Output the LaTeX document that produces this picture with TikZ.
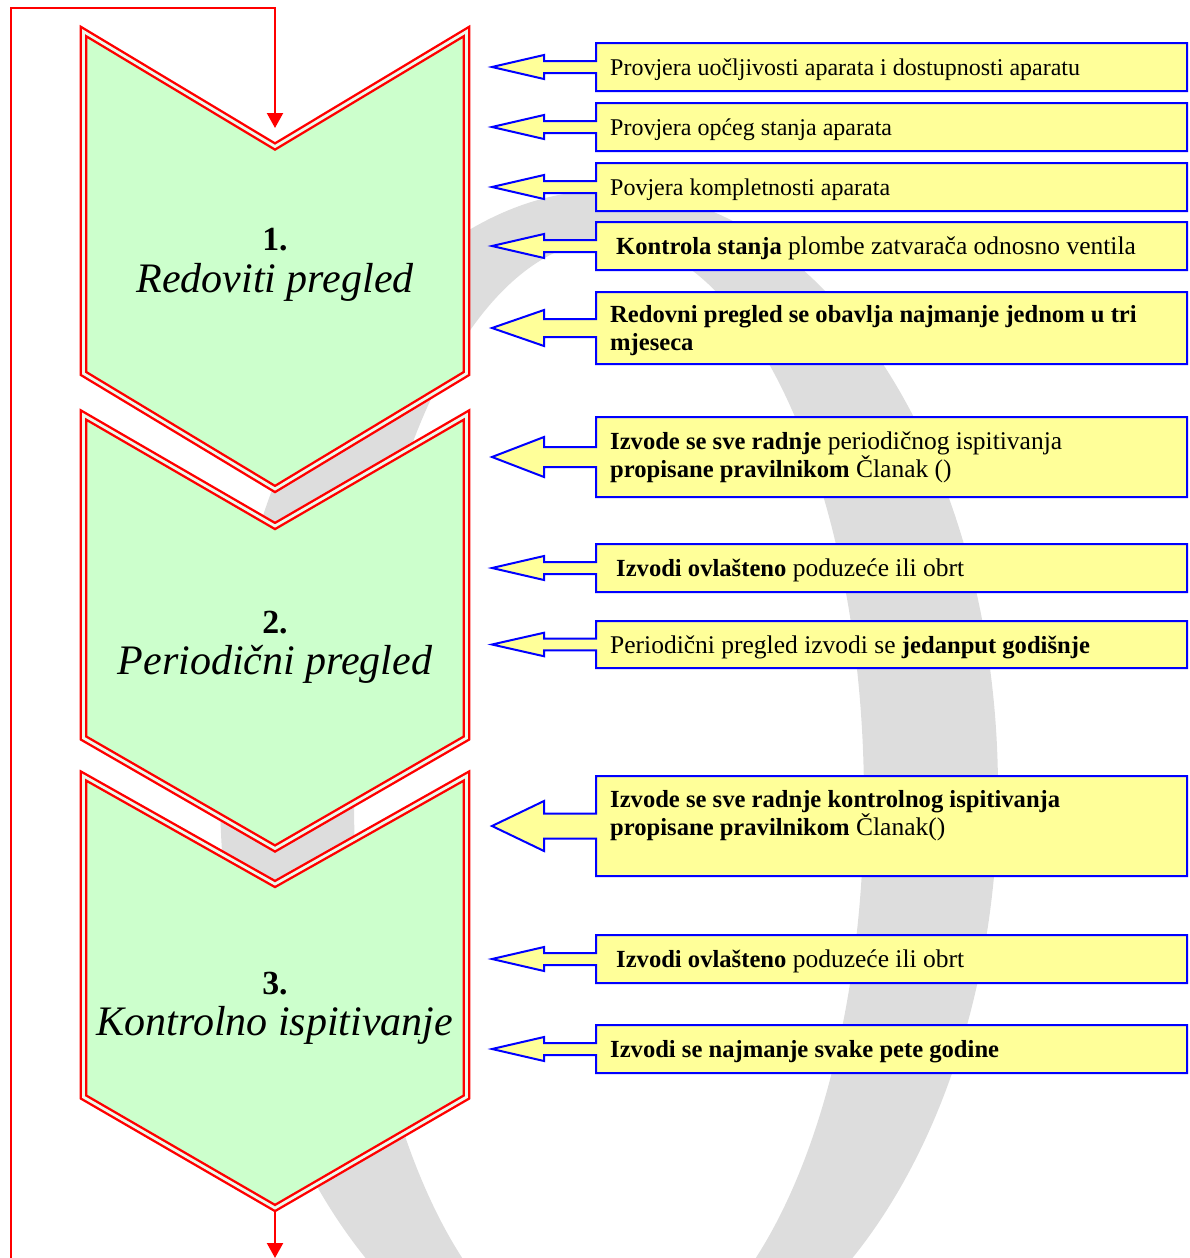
\documentclass[tikz,border=0pt]{standalone}
\usepackage{fontspec}
\setmainfont{Liberation Serif}[BoldFeatures={Scale=0.965}]
\usetikzlibrary{arrows.meta}
\definecolor{chevgreen}{RGB}{204,255,204}
\definecolor{boxyellow}{RGB}{255,255,153}
\definecolor{ringgray}{RGB}{221,221,221}
\definecolor{gapcol}{RGB}{236,250,236}
\tikzset{
  chev/.style={fill=chevgreen, draw=red, line width=2.4pt, double=gapcol, double distance=2.8pt, line join=miter},
  calbox/.style={fill=boxyellow, draw=blue, line width=2pt, line join=miter},
  conn/.style={draw=red, line width=2.2pt, line join=miter, -{Triangle[width=16pt,length=15pt]}},
  btxt/.style={anchor=base west, align=left, inner sep=0pt, font=\fontsize{25.5}{28}\selectfont},
  stxt/.style={btxt, font=\fontsize{24}{28}\selectfont},
  numtxt/.style={anchor=base, inner sep=0pt, font=\fontsize{35}{35}\selectfont\bfseries},
  ttltxt/.style={anchor=base, inner sep=0pt, font=\fontsize{42}{42}\selectfont\itshape},
}
\newcommand\calshape[2]{%
  \pgfmathsetmacro\cbc{(#1+#2)/2}%
  \pgfmathsetmacro\cbs{(#2-#1)/8}%
  \pgfmathsetmacro\cbh{(#2-#1)/4}%
  \path[calbox] (596,#1) -- (1187,#1) -- (1187,#2) -- (596,#2) -- (596,\cbc+\cbs) -- (544,\cbc+\cbs)
     -- (544,\cbc+\cbh) -- (492,\cbc) -- (544,\cbc-\cbh) -- (544,\cbc-\cbs) -- (596,\cbc-\cbs) -- cycle;
}
\begin{document}
\begin{tikzpicture}[x=1pt,y=-1pt]
\useasboundingbox (0,0) rectangle (1190,1258);
\clip (0,0) rectangle (1190,1258);
% background ring
\fill[ringgray, even odd rule] (609,790) ellipse [x radius=389pt, y radius=600pt]
   (609,800) ellipse [x radius=255pt, y radius=560pt];
% chevrons
\path[chev] (83.5,31.5) -- (275,146.5) -- (466.5,31.5) -- (466.5,373.5) -- (275,489) -- (83.5,373.5) -- cycle;
\path[chev] (83.5,415) -- (275,526) -- (466.5,415) -- (466.5,738) -- (275,848.5) -- (83.5,738) -- cycle;
\path[chev] (83.5,776) -- (275,884) -- (466.5,776) -- (466.5,1097) -- (275,1208) -- (83.5,1097) -- cycle;
\node[numtxt] (n1) at (275,250) {1.};
\node[ttltxt] (l1) at (275,292) {Redoviti pregled};
\node[numtxt] (n2) at (275,633) {2.};
\node[ttltxt] (l2) at (275,674) {Periodični pregled};
\node[numtxt] (n3) at (275,994) {3.};
\node[ttltxt] (l3) at (275,1035) {Kontrolno ispitivanje};
% connectors
\coordinate (c1notch) at (275,143);
\coordinate (c3tip) at (275,1211);
\coordinate (loopstart) at (11,1258);
\coordinate (loopturn) at (275,8);
\coordinate (exitend) at (275,1258);
\draw[conn, shorten >=15pt] (loopstart) |- (loopturn) -- (c1notch);
\draw[conn] (c3tip) -- (exitend);
% callouts
\calshape{43}{91}
\calshape{103}{151}
\calshape{163}{211}
\calshape{222}{270}
\calshape{292}{364}
\calshape{417}{497}
\calshape{544}{592}
\calshape{621}{668}
\calshape{776}{876}
\calshape{935}{983}
\calshape{1025}{1073}
\node[stxt] (t1) at (610,75) {Provjera uočljivosti aparata i dostupnosti aparatu};
\node[stxt] (t2) at (610,135) {Provjera općeg stanja aparata};
\node[stxt] (t3) at (610,195) {Povjera kompletnosti aparata};
\node[btxt] (t4) at (616,254) {\textbf{Kontrola stanja} plombe zatvarača odnosno ventila};
\node[btxt] (t5) at (610,350) {\textbf{Redovni pregled se obavlja najmanje jednom u tri}\\\textbf{mjeseca}};
\node[btxt] (t6) at (610,477) {\textbf{Izvode se sve radnje} periodičnog ispitivanja\\\textbf{propisane pravilnikom} Članak ()};
\node[btxt] (t7) at (616,576) {\textbf{Izvodi ovlašteno} poduzeće ili obrt};
\node[btxt] (t8) at (610,653) {Periodični pregled izvodi se \textbf{jedanput godišnje}};
\node[btxt] (t9) at (610,835) {\textbf{Izvode se sve radnje kontrolnog ispitivanja}\\\textbf{propisane pravilnikom} Članak()};
\node[btxt] (t10) at (616,967) {\textbf{Izvodi ovlašteno} poduzeće ili obrt};
\node[btxt] (t11) at (610,1057) {\textbf{Izvodi se najmanje svake pete godine}};
\end{tikzpicture}
\end{document}
